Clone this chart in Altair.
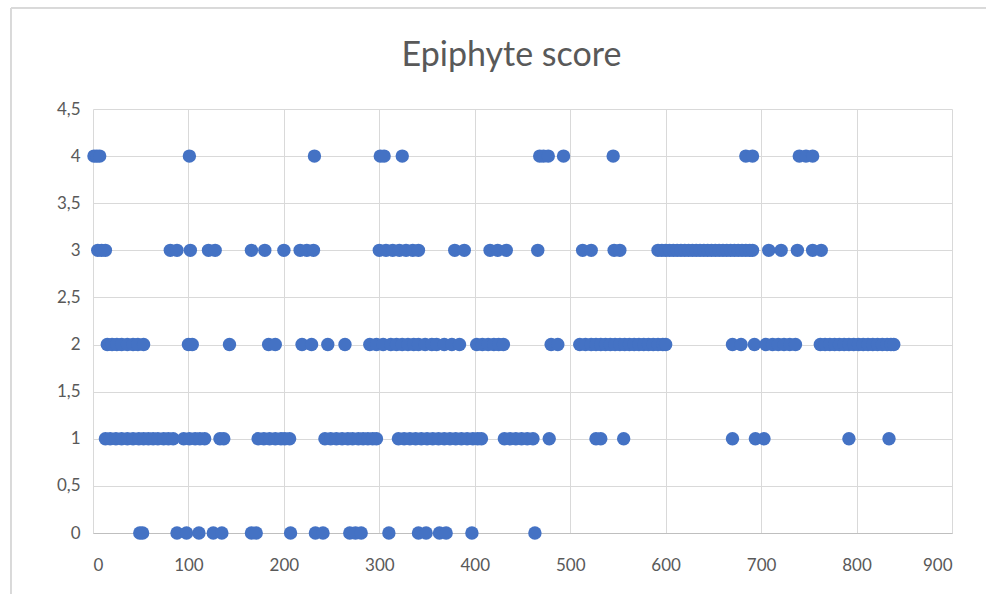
import altair as alt
import pandas as pd

# x positions of the points at each score level
score_4 = [1, 4, 7, 101, 232, 301, 305, 324, 468, 472, 477, 493, 545, 684, 691, 740, 747, 754]
score_3 = [5, 9, 13, 81, 88, 102, 121, 128, 166, 180, 200, 217, 224, 231, 300, 307, 314, 321,
           328, 335, 341, 379, 389, 416, 424, 433, 466, 513, 522, 546, 552, 592, 596, 600, 604,
           608, 612, 616, 620, 624, 628, 632, 636, 640, 644, 648, 652, 656, 660, 664, 668, 672,
           676, 680, 684, 688, 691, 708, 721, 738, 754, 763]
score_2 = [15, 20, 25, 30, 36, 42, 47, 53, 100, 104, 143, 184, 191, 219, 229, 246, 264, 290, 297,
           304, 312, 318, 324, 330, 336, 341, 348, 355, 360, 368, 376, 384, 402, 408, 414, 420,
           425, 430, 480, 487, 510, 516, 522, 527, 532, 537, 542, 547, 552, 557, 562, 567, 572,
           577, 582, 587, 592, 597, 600, 670, 679, 693, 705, 712, 718, 724, 730, 736, 762, 767,
           772, 777, 782, 787, 792, 797, 802, 807, 812, 817, 822, 827, 832, 836, 839]
score_1 = [13, 18, 24, 30, 36, 42, 48, 53, 58, 63, 68, 74, 79, 84, 95, 101, 107, 112, 117, 133,
           137, 173, 179, 185, 191, 197, 201, 206, 243, 249, 255, 261, 267, 272, 278, 283, 288,
           293, 297, 320, 326, 332, 338, 344, 350, 356, 362, 368, 374, 380, 386, 392, 398, 403,
           407, 431, 437, 443, 449, 455, 461, 478, 527, 532, 556, 670, 694, 703, 792, 834]
score_0 = [49, 52, 88, 98, 111, 126, 135, 166, 171, 207, 233, 241, 269, 275, 281, 310, 341, 349,
           363, 370, 397, 463]

x_ticks = [0, 100, 200, 300, 400, 500, 600, 700, 800, 900]
y_ticks = [0, 0.5, 1, 1.5, 2, 2.5, 3, 3.5, 4, 4.5]
title_text = "Epiphyte score"

rows = []
for level, xs in [(4, score_4), (3, score_3), (2, score_2), (1, score_1), (0, score_0)]:
    for xv in xs:
        rows.append({"x": xv, "score": level})
df = pd.DataFrame(rows)

FONT = "Lato"
GRAY = "#595959"
GRID = "#D9D9D9"

points = alt.Chart(df).mark_circle(size=180, color="#4472C4", opacity=1).encode(
    x=alt.X("x:Q", scale=alt.Scale(domain=[0, 900], nice=False, zero=False),
            axis=alt.Axis(values=x_ticks, title=None, grid=True, gridColor=GRID,
                          domain=True, domainColor="#BFBFBF", ticks=False,
                          labelPadding=24, labelFontSize=17, labelColor=GRAY,
                          labelFont=FONT)),
    y=alt.Y("score:Q", scale=alt.Scale(domain=[0, 4.5], nice=False),
            axis=alt.Axis(values=y_ticks, title=None, grid=True, gridColor=GRID,
                          domain=False, ticks=False, labelPadding=13, labelFontSize=17,
                          labelColor=GRAY, labelFont=FONT,
                          labelExpr="replace(toString(datum.value), '.', ',')")),
)

frame_top = alt.Chart(df).mark_rule(color="#D9D9D9", strokeWidth=1).encode(
    x=alt.value(-82), x2=alt.value(900), y=alt.value(-101)
)
frame_left = alt.Chart(df).mark_rule(color="#D9D9D9", strokeWidth=1).encode(
    x=alt.value(-82), y=alt.value(-101), y2=alt.value(500)
)
title = alt.Chart(pd.DataFrame({"t": [title_text]})).mark_text(
    font=FONT, fontSize=34, color=GRAY, align="center", baseline="alphabetic"
).encode(text="t:N", x=alt.value(418.5), y=alt.value(-43))

chart = alt.layer(frame_top, frame_left, title, points).properties(
    width=859,
    height=424,
    autosize=alt.AutoSizeParams(type="none"),
    padding={"left": 93, "top": 109, "right": 34, "bottom": 61},
).configure_view(stroke=None)

chart.save("out.html", embed_options={"renderer": "svg", "actions": False})
